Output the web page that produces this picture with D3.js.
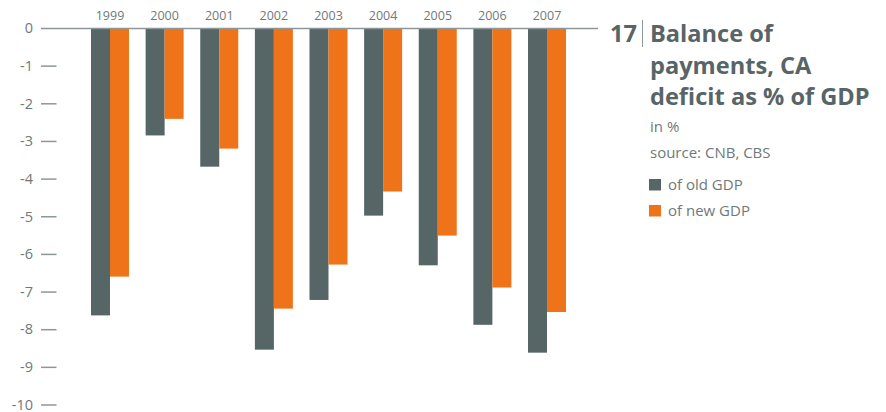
<!DOCTYPE html>
<html>
<head>
<meta charset="utf-8">
<script src="https://cdn.jsdelivr.net/npm/d3@7"></script>
<style>
	body { margin: 0; background: #fff; }
	svg { display: block; font-family: 'Open Sans', sans-serif; }
	.tick-label { fill: #6f797a; font-size: 14.5px; }
	.year { fill: #6f797a; font-size: 12.5px; }
	.title { fill: #586566; font-weight: bold; font-size: 23.6px; }
	.sub { fill: #6f797a; font-size: 15px; }
</style>
</head>
<body>
<script>
const years = ['1999', '2000', '2001', '2002', '2003', '2004', '2005', '2006', '2007']
const oldGdp = [-7.62, -2.84, -3.67, -8.53, -7.21, -4.97, -6.29, -7.87, -8.61]
const newGdp = [-6.59, -2.40, -3.19, -7.44, -6.27, -4.33, -5.50, -6.88, -7.53]
const yTicks = [0, -1, -2, -3, -4, -5, -6, -7, -8, -9, -10]
const series = ['of old GDP', 'of new GDP']
const colors = ['#566566', '#ef7318']

const w = 886, h = 412
const svg = d3.select('body').append('svg')
	.attr('width', w)
	.attr('height', h)

const y = d3.scaleLinear().domain([-10, 0]).range([405, 28.5])
const x = d3.scalePoint().domain(years).range([110, 547])
const xs = d3.scaleBand().domain(series).range([-19, 19])

// y axis ticks + labels
const axis = svg.append('g')
axis.selectAll('line.tk')
	.data(yTicks.filter(d => d !== 0))
	.join('line')
	.attr('x1', 41).attr('x2', 56.5)
	.attr('y1', d => y(d)).attr('y2', d => y(d))
	.attr('stroke', '#8d9799')
	.attr('stroke-width', 1.5)
axis.selectAll('text')
	.data(yTicks)
	.join('text')
	.attr('class', 'tick-label')
	.attr('x', 33)
	.attr('y', d => y(d))
	.attr('dy', '0.33em')
	.attr('text-anchor', 'end')
	.text(d => d)

// bars
const rows = years.map((yr, i) => ({ yr, vals: [oldGdp[i], newGdp[i]] }))
const grp = svg.append('g').selectAll('g')
	.data(rows)
	.join('g')
	.attr('transform', d => `translate(${x(d.yr)},0)`)
grp.selectAll('rect')
	.data(d => d.vals.map((v, j) => ({ v, s: series[j], c: colors[j] })))
	.join('rect')
	.attr('x', d => xs(d.s))
	.attr('width', xs.bandwidth())
	.attr('y', y(0))
	.attr('height', d => y(d.v) - y(0))
	.attr('fill', d => d.c)

// zero line
svg.append('line')
	.attr('x1', 41).attr('x2', 598)
	.attr('y1', y(0)).attr('y2', y(0))
	.attr('stroke', '#8d9799')
	.attr('stroke-width', 1.5)

// year labels
svg.append('g').selectAll('text')
	.data(years)
	.join('text')
	.attr('class', 'year')
	.attr('x', d => x(d))
	.attr('y', 20)
	.attr('text-anchor', 'middle')
	.text(d => d)

// title block
const t = svg.append('g')
t.append('text').attr('class', 'title').attr('x', 637).attr('y', 42).attr('text-anchor', 'end').text('17')
t.append('line')
	.attr('x1', 642.5).attr('x2', 642.5).attr('y1', 20).attr('y2', 47)
	.attr('stroke', '#8d9799').attr('stroke-width', 1)
const titleLines = ['Balance of', 'payments, CA', 'deficit as % of GDP']
t.selectAll('text.tl')
	.data(titleLines)
	.join('text')
	.attr('class', 'title tl')
	.attr('x', 650)
	.attr('y', (d, i) => 42 + i * 31.5)
	.text(d => d)
t.append('text').attr('class', 'sub').attr('x', 650).attr('y', 132).text('in %')
t.append('text').attr('class', 'sub').attr('x', 650).attr('y', 158).text('source: CNB, CBS')

const leg = t.selectAll('g.leg')
	.data(series)
	.join('g')
	.attr('class', 'leg')
	.attr('transform', (d, i) => `translate(649,${179 + i * 26})`)
leg.append('rect')
	.attr('width', 12).attr('height', 11.5)
	.attr('fill', (d, i) => colors[i])
leg.append('text')
	.attr('class', 'sub')
	.attr('x', 19).attr('y', 10.5)
	.text(d => d)
</script>
</body>
</html>
